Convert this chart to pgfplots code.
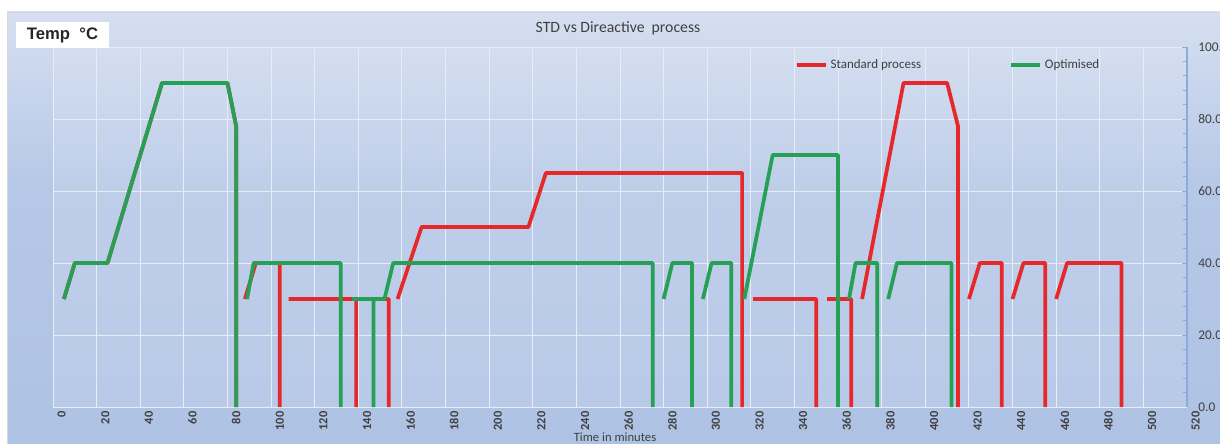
\documentclass[border=0pt]{standalone}
\usepackage{fontspec}
\setmainfont{Carlito}
\newfontfamily\arialfont{Liberation Sans}
\usepackage{pgfplots}
\pgfplotsset{compat=1.18}

\definecolor{stdred}{RGB}{230,40,42}
\definecolor{optgreen}{RGB}{38,160,84}
\definecolor{txt}{RGB}{64,64,64}
\definecolor{gridc}{RGB}{232,236,245}
\definecolor{axblue}{RGB}{142,170,219}
\definecolor{bgtop}{RGB}{246,248,252}
\definecolor{bgup}{RGB}{224,231,244}
\definecolor{bgmid}{RGB}{182,200,231}
\definecolor{bglow}{RGB}{174,194,228}
\definecolor{bgbot}{RGB}{194,208,233}
\pgfdeclareverticalshading{chartbg}{100bp}{color(0bp)=(bgbot); color(25bp)=(bglow); color(55bp)=(bgmid); color(82bp)=(bgup); color(100bp)=(bgtop)}

\begin{document}
\begin{tikzpicture}
\fill[white] (0,0) rectangle (915pt,332.25pt);
\shade[shading=chartbg] (5.25pt,-1pt) rectangle (916pt,323.25pt);
\draw[black!15, line width=0.6pt] (5.25pt,-1pt) rectangle (916pt,323.25pt);

\begin{axis}[
  at={(39.75pt,27pt)}, anchor=south west,
  scale only axis, width=850.5pt, height=270pt,
  xmin=0, xmax=520, ymin=0, ymax=100,
  axis x line*=bottom, axis y line*=right,
  x axis line style={draw=gridc},
  y axis line style={draw=axblue, line width=0.8pt},
  xtick={0,20,...,520}, ytick={0,20,...,100},
  minor y tick num=4,
  tick align=inside,
  major tick length=4pt, minor tick length=3pt,
  xtick style={draw=none},
  ytick style={draw=axblue, line width=0.6pt},
  grid=major,
  major grid style={draw=gridc, line width=0.7pt},
  axis background/.style={fill=white, fill opacity=0.12},
  /pgf/number format/assume math mode=true,
  xticklabel style={rotate=90, anchor=east, yshift=-6.5pt,
    font=\fontsize{9.3}{10}\selectfont\bfseries, text=txt},
  yticklabel style={anchor=west, xshift=5pt,
    font=\fontsize{10}{12}\selectfont, text=txt},
  yticklabel={\pgfmathprintnumber[fixed,fixed zerofill,precision=1]{\tick}},
  unbounded coords=jump,
  legend style={draw=none, fill=none, at={(0.654,0.95)}, anchor=west,
    legend columns=2, font=\fontsize{9.75}{11}\selectfont, text=txt,
    inner sep=0pt, /tikz/every even column/.append style={column sep=64pt}},
  legend image code/.code={\draw[#1] (0pt,0pt) -- (22pt,0pt);},
]
\addplot[stdred, line width=2.8pt, line join=round] coordinates {
  (5,30) (10,40) (25,40) (50,90) (80,90) (84,78) (84,0) (84,nan)
  (88,30) (93,40) (104,40) (104,0) (104,nan)
  (108,30) (139,30) (139,0) (139,nan)
  (139,30) (154,30) (154,0) (154,nan)
  (158,30) (169,50) (218,50) (226,65) (316,65) (316,0) (316,nan)
  (321,30) (350,30) (350,0) (350,nan)
  (355,30) (366,30) (366,0) (366,nan)
  (371,30) (390,90) (410,90) (415,78) (415,0) (415,nan)
  (420,30) (425,40) (435,40) (435,0) (435,nan)
  (440,30) (445,40) (455,40) (455,0) (455,nan)
  (460,30) (465,40) (490,40) (490,0)
};
\addlegendentry{Standard process}
\addplot[optgreen, line width=2.8pt, line join=round] coordinates {
  (5,30) (10,40) (25,40) (50,90) (80,90) (84,78) (84,0) (84,nan)
  (89,30) (92,40) (132,40) (132,0) (132,nan)
  (137,30) (147,30) (147,0) (147,nan)
  (147,30) (152,30) (156,40) (275,40) (275,0) (275,nan)
  (280,30) (284,40) (293,40) (293,0) (293,nan)
  (298,30) (302,40) (311,40) (311,0) (311,nan)
  (317,30) (330,70) (360,70) (360,0) (360,nan)
  (365,30) (368,40) (378,40) (378,0) (378,nan)
  (383,30) (387,40) (412,40) (412,0)
};
\addlegendentry{Optimised}
\end{axis}

\fill[white] (12pt,296.25pt) rectangle (81.75pt,315.75pt);
\node[font=\arialfont\bfseries\fontsize{12.5}{14}\selectfont, text=black!85] at (46.9pt,306pt) {Temp\ \ °C};
\node[font=\fontsize{11.8}{13}\selectfont, text=txt] at (463.5pt,311.25pt) {STD vs Direactive\ \ process};
\node[font=\fontsize{9.5}{11}\selectfont, text=txt] at (461.25pt,4pt) {Time in minutes};
\pgfresetboundingbox
\useasboundingbox (0,0) rectangle (915pt,332.25pt);
\end{tikzpicture}
\end{document}
